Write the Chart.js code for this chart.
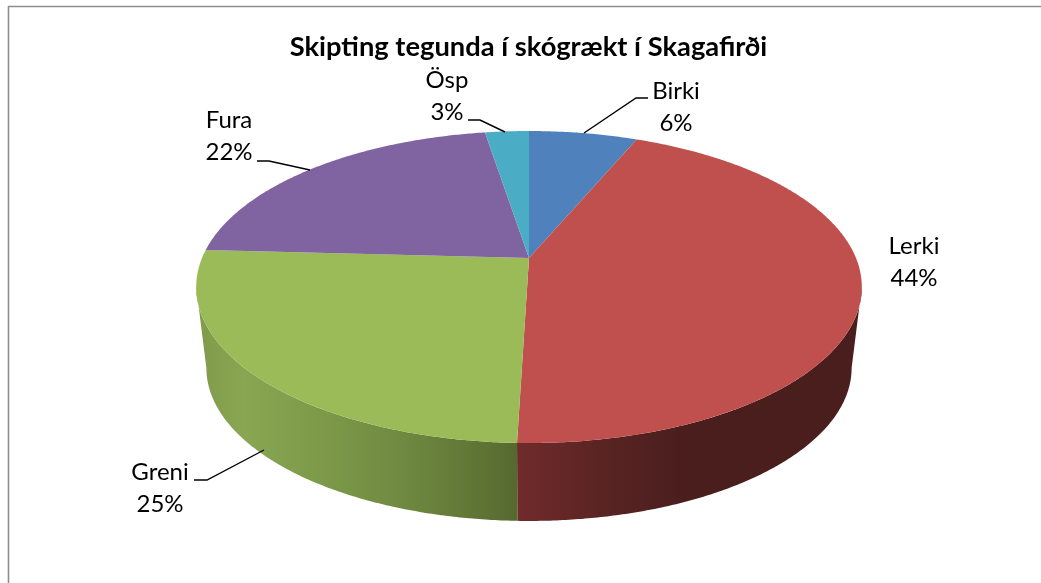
<!DOCTYPE html>
<html>
<head>
<meta charset="utf-8">
<style>html,body{margin:0;padding:0;background:#fff}canvas{display:block}</style>
<script src="https://cdn.jsdelivr.net/npm/chart.js@4"></script>
</head>
<body>
<canvas id="c" width="1041" height="583"></canvas>
<script>
const categories = ['Birki', 'Lerki', 'Greni', 'Fura', 'Ösp'];
const shares = [6.3, 44.2, 25.4, 21.6, 2.55];
const sliceColors = ['#4f81bd', '#c0504d', '#9bbb59', '#8064a2', '#4bacc6'];
const chartTitle = 'Skipting tegunda í skógrækt í Skagafirði';

// Presentation: perspective of the top and bottom rims of the 3D pie
const TOP = {cx: 529, cy: 258, a: 327, b: 150.6, k: 0.186};
const BOTTOM = {cx: 529, cy: 339.5, a: 317, b: 147.7, k: 0.186};
const WALL_FROM = 100.7 * Math.PI / 180, WALL_TO = 259.3 * Math.PI / 180;
const wallStops = {
  1: [[518, '#702b2b'], [600, '#5a2423'], [680, '#4b1e1e'], [860, '#4b1e1e']],
  2: [[196, '#7f9b4a'], [245, '#89a653'], [320, '#7d9a49'], [400, '#708a41'], [470, '#617736'], [518, '#55692f']]
};
const labelLayout = [
  {x: 676, y: 91, line: [[584,133],[636,98],[648,98]]},
  {x: 914, y: 246},
  {x: 160, y: 472, line: [[264,450],[207,480],[194,480]]},
  {x: 229, y: 120, line: [[310,170],[269,161],[257,161]]},
  {x: 447, y: 80, line: [[505,132],[480,120],[468,120]]}
];

function project(p, theta, r) {
  const u = r * Math.sin(theta), v = -r * Math.cos(theta), w = 1 - p.k * v;
  return [p.cx + p.a * u / w, p.cy + p.b * v / w];
}
function trace(ctx, p, t0, t1, first) {
  const n = Math.max(2, Math.ceil(Math.abs(t1 - t0) * 120));
  for (let i = 0; i <= n; i++) {
    const q = project(p, t0 + (t1 - t0) * i / n, 1);
    if (i === 0 && first) ctx.moveTo(q[0], q[1]); else ctx.lineTo(q[0], q[1]);
  }
}

const pie3d = {
  id: 'pie3d',
  beforeDraw(chart) {
    const ctx = chart.ctx;
    ctx.save();
    ctx.strokeStyle = '#8e8e8e';
    ctx.lineWidth = 1.6;
    ctx.beginPath();
    ctx.moveTo(8.5, 583); ctx.lineTo(8.5, 6.5); ctx.lineTo(1041, 6.5);
    ctx.stroke();
    ctx.restore();
  },
  beforeDatasetDraw(chart) {
    const ctx = chart.ctx, meta = chart.getDatasetMeta(0);
    const angles = meta.data.map(a => [a.startAngle + Math.PI / 2, a.endAngle + Math.PI / 2]);
    ctx.save();
    // side walls
    angles.forEach((ang, i) => {
      const t0 = Math.max(ang[0], WALL_FROM), t1 = Math.min(ang[1], WALL_TO);
      if (t1 <= t0) return;
      const stops = wallStops[i];
      const g = ctx.createLinearGradient(stops[0][0], 0, stops[stops.length - 1][0], 0);
      const span = stops[stops.length - 1][0] - stops[0][0];
      stops.forEach(s => g.addColorStop((s[0] - stops[0][0]) / span, s[1]));
      ctx.fillStyle = g;
      ctx.beginPath();
      trace(ctx, TOP, t0, t1, true);
      trace(ctx, BOTTOM, t1, t0, false);
      ctx.closePath();
      ctx.fill();
    });
    // top faces
    angles.forEach((ang, i) => {
      ctx.fillStyle = chart.data.datasets[0].backgroundColor[i];
      ctx.beginPath();
      ctx.moveTo(TOP.cx, TOP.cy);
      trace(ctx, TOP, ang[0], ang[1], false);
      ctx.closePath();
      ctx.fill();
    });
    ctx.restore();
    return false;
  },
  afterDatasetsDraw(chart) {
    const ctx = chart.ctx, values = chart.data.datasets[0].data;
    const total = values.reduce((s, v) => s + v, 0);
    ctx.save();
    ctx.fillStyle = '#000';
    ctx.strokeStyle = '#000';
    ctx.lineWidth = 1.4;
    ctx.font = '24px Lato, sans-serif';
    ctx.textAlign = 'center';
    ctx.textBaseline = 'middle';
    chart.data.labels.forEach((name, i) => {
      const l = labelLayout[i];
      ctx.fillText(name, l.x, l.y);
      ctx.fillText(Math.round(values[i] / total * 100) + '%', l.x, l.y + 32);
      if (l.line) {
        ctx.beginPath();
        l.line.forEach((p, j) => j ? ctx.lineTo(p[0], p[1]) : ctx.moveTo(p[0], p[1]));
        ctx.stroke();
      }
    });
    ctx.restore();
  }
};

new Chart(document.getElementById('c'), {
  type: 'pie',
  data: {
    labels: categories,
    datasets: [{data: shares, backgroundColor: sliceColors, borderWidth: 0}]
  },
  plugins: [pie3d],
  options: {
    responsive: false,
    animation: false,
    layout: {padding: {left: 16}},
    events: [],
    plugins: {
      legend: {display: false},
      tooltip: {enabled: false},
      title: {
        display: true,
        text: chartTitle,
        color: '#000',
        font: {family: 'Lato, sans-serif', size: 27.3, weight: 'bold', lineHeight: 1.2},
        padding: {top: 31, bottom: 10}
      }
    }
  }
});
</script>
</body>
</html>
